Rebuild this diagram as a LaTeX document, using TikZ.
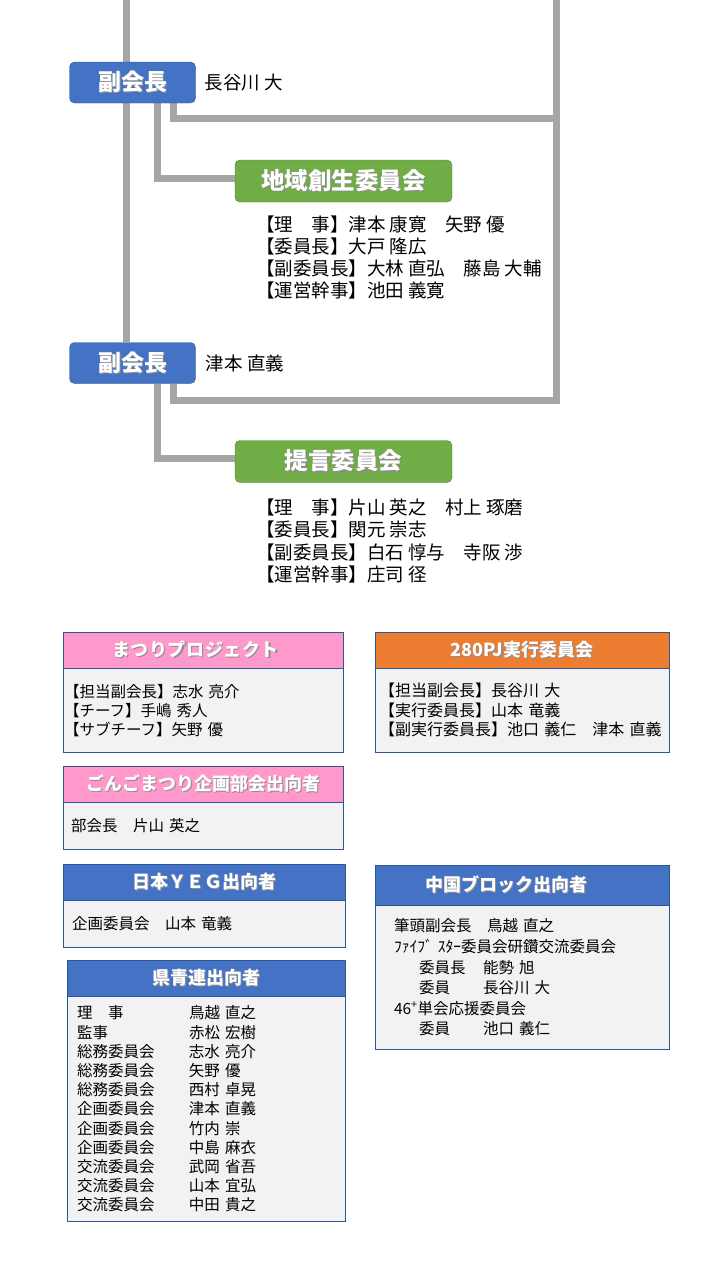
\documentclass[tikz,border=0pt]{standalone}
\usepackage{fontspec}
\setmainfont{Noto Sans CJK JP}
\usetikzlibrary{positioning,backgrounds}

\definecolor{vcblue}{HTML}{4472C4}
\definecolor{vcborder}{HTML}{2F528F}
\definecolor{grgreen}{HTML}{70AD47}
\definecolor{grborder}{HTML}{507E32}
\definecolor{pjpink}{HTML}{FF99CC}
\definecolor{pjorange}{HTML}{ED7D31}
\definecolor{boxgray}{HTML}{F2F2F2}
\definecolor{boxborder}{HTML}{2F5597}
\definecolor{linkgray}{HTML}{A6A6A6}

\newcommand\shadowed[1]{\leavevmode\rlap{\hspace{1.2pt}\raisebox{-1.2pt}{\color{black!45}#1}}#1}
\newcommand\kenrow[2]{\makebox[112pt][l]{#1}#2}
\newcommand\blockrow[2]{\hspace*{25pt}\makebox[64pt][l]{#1}#2}

\begin{document}
\begin{tikzpicture}[x=1pt, y=-1pt,
    vice/.style = {draw=vcborder, fill=vcblue, rounded corners=5pt, minimum width=126pt, minimum height=41pt, text=white, font=\fontsize{23}{26}\selectfont\bfseries},
    cmte/.style = {draw=grborder, fill=grgreen, rounded corners=5pt, minimum width=217pt, minimum height=42pt, text=white, font=\fontsize{23.5}{26}\selectfont\bfseries},
    person/.style = {inner sep=0pt, font=\fontsize{18.5}{20}\selectfont},
    members/.style = {inner sep=0pt, anchor=north west, align=left, font=\fontsize{18.5}{22.3}\selectfont},
    head/.style = {draw=boxborder, text=white, minimum height=36pt, font=\fontsize{18}{22}\selectfont\bfseries},
    body/.style = {draw=boxborder, fill=boxgray, align=left, inner xsep=9pt, font=\fontsize{15.5}{19.2}\selectfont},
    link/.style = {draw=linkgray, line width=7pt}]
    \useasboundingbox (0,0) rectangle (720,1280);

    \coordinate (top1) at (126,0);
    \coordinate (top2) at (556,0);

    % vice chairs and committees
    \node[vice] (vc1) at (132.5,82.5) {\shadowed{副会長}};
    \node[person] (n1) [right=9pt of vc1] {長谷川 大};
    \node[cmte] (c1) at (343.5,181) {\shadowed{地域創生委員会}};
    \node[members] (m1) [below right=13pt and 21pt of c1.south west] {【理　事】津本 康寛　矢野 優\\【委員長】大戸 隆広\\【副委員長】大林 直弘　藤島 大輔\\【運営幹事】池田 義寛};

    \node[vice] (vc2) at (132.5,363) {\shadowed{副会長}};
    \node[person] (n2) [right=10pt of vc2] {津本 直義};
    \node[cmte] (c2) at (343.5,461.5) {\shadowed{提言委員会}};
    \node[members] (m2) [below right=16pt and 21pt of c2.south west] {【理　事】片山 英之　村上 琢磨\\【委員長】関元 崇志\\【副委員長】白石 惇与　寺阪 渉\\【運営幹事】庄司 径};

    % connectors
    \begin{scope}[on background layer]
        \draw[link] (top1) -- (top1 |- vc2.north);
        \draw[link] ([xshift=25pt]vc1.south) |- ([yshift=3pt]c1.west);
        \draw[link] ([xshift=41pt]vc1.south) |- ([yshift=-15.5pt]vc1.south -| top2);
        \draw[link] ([xshift=25pt]vc2.south) |- ([yshift=3pt]c2.west);
        \draw[link] ([xshift=41pt]vc2.south) |- ([yshift=-17pt]vc2.south -| top2) -- (top2);
    \end{scope}

    % outside posts
    \node[head, fill=pjpink, minimum width=280pt] (h1) at (203,650) {\shadowed{ま\kern.6pt つ\kern.6pt り\kern.6pt プ\kern.6pt ロ\kern.6pt ジ\kern.6pt ェ\kern.6pt ク\kern.6pt ト}\hspace*{15pt}};
    \node[body, below=0pt of h1, inner xsep=1pt, text width=278pt, minimum height=84pt] (b1) {【担当副会長】志水 亮介\\【チーフ】手嶋 秀人\\【サブチーフ】矢野 優};

    \node[head, fill=pjpink, minimum width=280pt] (h2) at (203,784) {\shadowed{ごんごまつり企画部会出向者}};
    \node[body, below=0pt of h2, inner xsep=8pt, text width=264pt, minimum height=47pt] (b2) {部会長　片山 英之};

    \node[head, fill=pjorange, minimum width=294pt] (h3) at (522,650) {\shadowed{280PJ実行委員会}};
    \node[body, below=0pt of h3, inner xsep=4pt, text width=286pt, minimum height=84pt, font=\fontsize{16}{19.5}\selectfont] (b3) {【担当副会長】長谷川 大\\【実行委員長】山本 竜義\\【副実行委員長】池口 義仁　津本 直義};

    \node[head, fill=vcblue, minimum width=282pt] (h4) at (204,882) {\shadowed{日本ＹＥＧ出向者}};
    \node[body, below=0pt of h4, text width=264pt, minimum height=47pt] (b4) {企画委員会　山本 竜義};

    \node[head, fill=vcblue, minimum width=294pt, minimum height=40pt] (h5) at (522,885) {\shadowed{中国ブロック出向者}\hspace*{32pt}};
    \node[body, below=0pt of h5, inner xsep=19pt, text width=256pt, minimum height=144pt, font=\fontsize{15.5}{20.6}\selectfont] (b5) {筆頭副会長　鳥越 直之\\ﾌｧｲﾌﾞ ｽﾀｰ委員会研鑽交流委員会\\\blockrow{委員長}{能勢 旭}\\\blockrow{委員}{長谷川 大}\\46\textsuperscript{+}単会応援委員会\\\blockrow{委員}{池口 義仁}};

    \node[head, fill=vcblue, minimum width=278pt] (h6) at (206,978) {\shadowed{県青連出向者}};
    \node[body, below=0pt of h6, inner xsep=10pt, text width=258pt, minimum height=225pt] (b6) {\kenrow{理　事}{鳥越 直之}\\\kenrow{監事}{赤松 宏樹}\\\kenrow{総務委員会}{志水 亮介}\\\kenrow{総務委員会}{矢野 優}\\\kenrow{総務委員会}{西村 卓晃}\\\kenrow{企画委員会}{津本 直義}\\\kenrow{企画委員会}{竹内 崇}\\\kenrow{企画委員会}{中島 麻衣}\\\kenrow{交流委員会}{武岡 省吾}\\\kenrow{交流委員会}{山本 宜弘}\\\kenrow{交流委員会}{中田 貴之}};
\end{tikzpicture}
\end{document}
